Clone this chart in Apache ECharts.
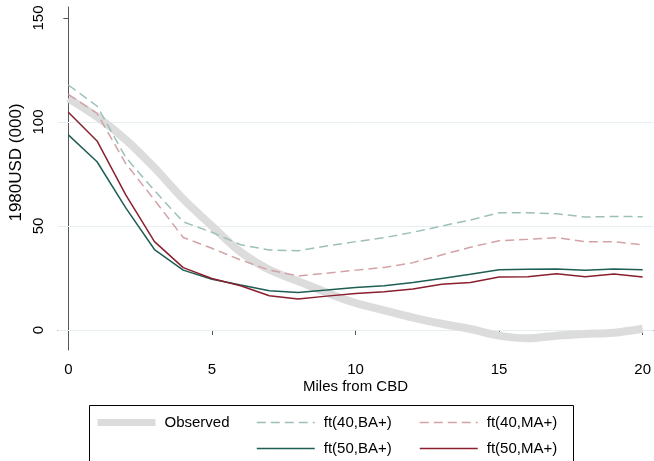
<!DOCTYPE html>
<html>
<head>
<meta charset="utf-8">
<script src="https://cdn.jsdelivr.net/npm/echarts@6/dist/echarts.min.js"></script>
<style>
  html, body { margin: 0; padding: 0; background: #fff; }
  #chart { width: 654px; height: 461px; }
</style>
</head>
<body>
<div id="chart"></div>
<script>
// miles from CBD
const miles = [0, 1, 2, 3, 4, 5, 6, 7, 8, 9, 10, 11, 12, 13, 14, 15, 16, 17, 18, 19, 20];
const observed = [111.4, 102.5, 91.5, 78, 63, 50, 37.5, 29, 23.5, 18, 13, 9.5, 6, 3, 0.5, -2.7, -4.0, -2.7, -1.9, -1.3, 0.6];
const ft40BA = [117.8, 107.7, 83, 67, 52, 47, 41, 38.5, 38.1, 40.4, 42.5, 44.4, 47, 50, 52.9, 56.4, 56.4, 55.9, 54.3, 54.6, 54.5];
const ft40MA = [113.3, 104.2, 80, 62.5, 44.5, 39.3, 33.7, 28.8, 26, 27.3, 28.8, 30.1, 32.4, 36.1, 39.8, 42.9, 43.6, 44.4, 42.5, 42.5, 40.9];
const ft50BA = [93.8, 80.9, 58.7, 38.7, 28.8, 24.4, 21.6, 18.9, 18.1, 19.2, 20.5, 21.3, 22.8, 24.8, 26.8, 29, 29.2, 29.3, 28.7, 29.3, 29.0];
const ft50MA = [104.7, 90.9, 65, 42.5, 30, 24.8, 21.3, 16.5, 14.9, 16.3, 17.6, 18.4, 19.7, 22, 22.9, 25.5, 25.6, 27.1, 25.6, 26.9, 25.5];
const xTicks = [0, 5, 10, 15, 20];
const yTicks = [0, 50, 100, 150];
const gridAt = [0, 50, 100];

const FONT = "'Liberation Sans', Arial, sans-serif";
const pairs = (ys) => miles.map((m, i) => [m, ys[i]]);

const chart = echarts.init(document.getElementById("chart"));

// one legend per entry so the 3-column Stata layout (with empty cell) can be kept
function legendAt(name, left, top, width) {
  return {
    data: [name],
    left: left,
    top: top,
    itemWidth: 58,
    itemHeight: 14,
    selectedMode: false,
    itemStyle: { opacity: 0 },
    lineStyle: { width: width },
    textStyle: { fontFamily: FONT, fontSize: 15, color: "#000", padding: [0, 0, 0, 4] },
  };
}

const option = {
  animation: false,
  textStyle: { fontFamily: FONT },
  grid: { left: 58, right: 1, top: 7, bottom: 111, containLabel: false, outerBoundsMode: "none" },
  graphic: [
    {
      type: "rect",
      z: 0,
      shape: { x: 89.5, y: 405.5, width: 484, height: 80 },
      style: { fill: "#fff", stroke: "#000", lineWidth: 1 },
    },
  ],
  legend: [
    legendAt("Observed", 89, 410, 7),
    legendAt("ft(40,BA+)", 251, 410, 1.5),
    legendAt("ft(40,MA+)", 414, 410, 1.5),
    legendAt("ft(50,BA+)", 251, 436, 1.5),
    legendAt("ft(50,MA+)", 414, 436, 1.5),
  ],
  xAxis: {
    type: "value",
    min: -0.36,
    max: 20.36,
    name: "Miles from CBD",
    nameLocation: "middle",
    nameGap: 29,
    nameMoveOverlap: false,
    nameTextStyle: { fontSize: 15, color: "#000" },
    axisLine: { lineStyle: { color: "#555", width: 1 } },
    axisTick: { customValues: xTicks, length: 5, lineStyle: { color: "#555" } },
    axisLabel: { customValues: xTicks, margin: 12, fontSize: 15, color: "#000" },
    splitLine: { show: false },
  },
  yAxis: {
    type: "value",
    min: -9.6,
    max: 155.3,
    name: "1980USD (000)",
    nameLocation: "middle",
    nameRotate: 90,
    nameGap: 33,
    nameMoveOverlap: false,
    nameTextStyle: { fontSize: 17, color: "#000", padding: [0, 0, 0, 32] },
    axisLine: { show: true, lineStyle: { color: "#555", width: 1 } },
    axisTick: { show: true, customValues: yTicks, length: 5, lineStyle: { color: "#555" } },
    axisLabel: { customValues: yTicks, rotate: 90, margin: 12, fontSize: 15, color: "#000" },
    splitLine: { show: false },
  },
  series: [
    {
      name: "Observed",
      type: "line",
      data: pairs(observed),
      smooth: 0.3,
      showSymbol: false,
      symbol: "none",
      lineStyle: { color: "#dcdcdc", width: 8 },
      itemStyle: { color: "#e2e2e2" },
      markLine: {
        silent: true,
        symbol: "none",
        z: 1,
        label: { show: false },
        lineStyle: { color: "#e6eff0", width: 1, type: "solid" },
        data: gridAt.map((v) => ({ yAxis: v })),
      },
    },
    {
      name: "ft(40,BA+)",
      type: "line",
      data: pairs(ft40BA),
      symbol: "none",
      lineStyle: { color: "#9cc0b9", width: 1.5, type: [9, 5] },
      itemStyle: { color: "#9cc0b9" },
    },
    {
      name: "ft(40,MA+)",
      type: "line",
      data: pairs(ft40MA),
      symbol: "none",
      lineStyle: { color: "#d3a2a6", width: 1.5, type: [9, 5] },
      itemStyle: { color: "#d3a2a6" },
    },
    {
      name: "ft(50,BA+)",
      type: "line",
      data: pairs(ft50BA),
      symbol: "none",
      lineStyle: { color: "#1e5e54", width: 1.5 },
      itemStyle: { color: "#1e5e54" },
    },
    {
      name: "ft(50,MA+)",
      type: "line",
      data: pairs(ft50MA),
      symbol: "none",
      lineStyle: { color: "#8a1f2d", width: 1.5 },
      itemStyle: { color: "#8a1f2d" },
    },
  ],
};

chart.setOption(option);
</script>
</body>
</html>
